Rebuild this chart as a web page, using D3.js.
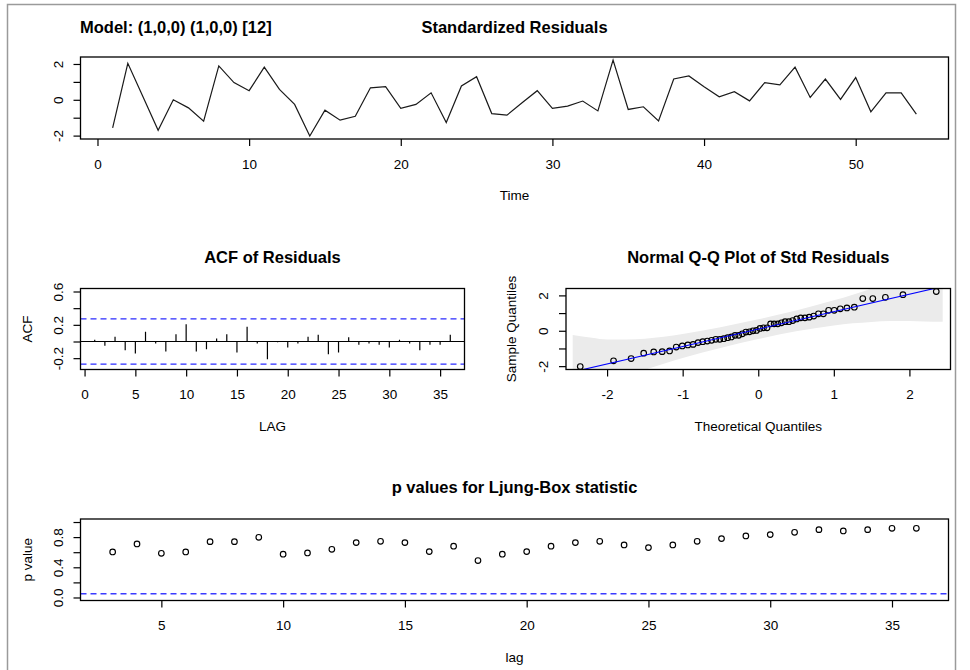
<!DOCTYPE html>
<html>
<head>
<meta charset="utf-8">
<script src="https://cdn.jsdelivr.net/npm/d3@7"></script>
<style>
  body { margin: 0; background: #fff; }
  text { font-family: "Liberation Sans", Arial, sans-serif; fill: #000; }
</style>
</head>
<body>
<svg id="chart" width="970" height="670"></svg>
<script>
// standardized residuals, time 1..54
const time = d3.range(1, 55);
const residuals = [-1.57, 2.04, 0.17, -1.70, 0.00, -0.45, -1.20, 1.89, 0.96, 0.51,
  1.82, 0.58, -0.26, -2.02, -0.58, -1.14, -0.92, 0.67, 0.73, -0.48,
  -0.26, 0.39, -1.27, 0.77, 1.29, -0.77, -0.86, -0.17, 0.51, -0.48,
  -0.35, -0.07, -0.62, 2.22, -0.54, -0.39, -1.18, 1.16, 1.33, 0.73,
  0.17, 0.45, -0.06, 0.96, 0.83, 1.82, 0.13, 1.16, 0.02, 1.24,
  -0.67, 0.39, 0.39, -0.80];

// acf of residuals
const acfLags = d3.range(1, 37);
const acfValues = [0.02, -0.052, 0.056, -0.104, -0.144, 0.116, -0.024, -0.12, 0.088, 0.208,
  -0.12, -0.092, 0.036, 0.088, -0.132, 0.176, -0.024, -0.212, -0.01, -0.072,
  -0.024, 0.056, 0.08, -0.152, -0.132, 0.052, -0.04, -0.024, -0.04, -0.072,
  0.02, -0.024, -0.104, -0.04, -0.04, 0.08];
const acfBound = 0.272;

// ljung-box p values
const lbLags = d3.range(3, 37);
const lbPvalues = [0.604, 0.709, 0.586, 0.604, 0.740, 0.740, 0.798, 0.573, 0.590, 0.639,
  0.727, 0.745, 0.727, 0.608, 0.679, 0.489, 0.573, 0.608, 0.679, 0.727,
  0.745, 0.696, 0.661, 0.696, 0.745, 0.780, 0.815, 0.833, 0.864, 0.899,
  0.881, 0.899, 0.917, 0.917];

// grey confidence band of the q-q plot
const bandZ = [-2.455, -2.2, -2.0, -1.75, -1.5, -1.25, -1.0, -0.5, 0, 0.5, 1.0, 1.25, 1.5, 1.75, 2.0, 2.2, 2.44];
const bandUpper = [-0.24, -0.4, -0.5, -0.5, -0.45, -0.34, -0.18, 0.2, 0.65, 1.15, 1.72, 2.04, 2.39, 2.77, 3.23, 3.67, 4.3];
const bandLower = [-4.16, -3.49, -3.05, -2.59, -2.2, -1.86, -1.54, -0.97, -0.47, -0.03, 0.3, 0.42, 0.5, 0.55, 0.55, 0.53, 0.51];

const modelLabel = "Model: (1,0,0) (1,0,0) [12]";

const svg = d3.select("#chart");

// frame round the screenshot
svg.append("rect")
  .attr("x", 7.5).attr("y", 4.5)
  .attr("width", 948).attr("height", 670)
  .attr("fill", "none").attr("stroke", "#9a9a9a").attr("stroke-width", 1.5);

// R pads each axis range by 4%
const pad = ([a, b]) => {
  const d = (b - a) * 0.04;
  return [a - d, b + d];
};

// inverse normal cdf (Acklam)
function qnorm(p) {
  const a = [-39.69683028665376, 220.9460984245205, -275.9285104469687, 138.3577518672690, -30.66479806614716, 2.506628277459239];
  const b = [-54.47609879822406, 161.5858368580409, -155.6989798598866, 66.80131188771972, -13.28068155288572];
  const c = [-0.007784894002430293, -0.3223964580411365, -2.400758277161838, -2.549732539343734, 4.374664141464968, 2.938163982698783];
  const d = [0.007784695709041462, 0.3224671290700398, 2.445134137142996, 3.754408661907416];
  const pl = 0.02425;
  if (p < pl) {
    const q = Math.sqrt(-2 * Math.log(p));
    return (((((c[0] * q + c[1]) * q + c[2]) * q + c[3]) * q + c[4]) * q + c[5]) /
      ((((d[0] * q + d[1]) * q + d[2]) * q + d[3]) * q + 1);
  }
  if (p > 1 - pl) return -qnorm(1 - p);
  const q = p - 0.5, r = q * q;
  return (((((a[0] * r + a[1]) * r + a[2]) * r + a[3]) * r + a[4]) * r + a[5]) * q /
    (((((b[0] * r + b[1]) * r + b[2]) * r + b[3]) * r + b[4]) * r + 1);
}

const fs = 13.5;
const intFmt = v => String(v);
const oneDec = v => v.toFixed(1);

function panel(o) {
  const x = d3.scaleLinear().domain(o.xDomain).range([o.left, o.right]);
  const y = d3.scaleLinear().domain(o.yDomain).range([o.bottom, o.top]);
  const g = svg.append("g");
  const clipId = "clip" + Math.round(o.left) + Math.round(o.top);
  svg.append("clipPath").attr("id", clipId)
    .append("rect")
    .attr("x", o.left).attr("y", o.top)
    .attr("width", o.right - o.left).attr("height", o.bottom - o.top);
  const plot = g.append("g").attr("clip-path", `url(#${clipId})`);

  // x axis
  const xa = g.append("g")
    .attr("transform", `translate(0,${o.bottom})`)
    .call(d3.axisBottom(x).tickValues(o.xTicks).tickSize(7).tickSizeOuter(0)
      .tickPadding(13).tickFormat(intFmt));
  xa.select(".domain").remove();
  xa.selectAll("line").attr("stroke", "#000").attr("stroke-width", 1.2);
  xa.selectAll("text").attr("font-size", fs).attr("fill", "#000");

  // y axis, labels rotated like R
  const ya = g.append("g")
    .attr("transform", `translate(${o.left},0)`)
    .call(d3.axisLeft(y).tickValues(o.yTicks).tickSize(7).tickSizeOuter(0)
      .tickFormat(v => o.yLabels.includes(v) ? o.yFormat(v) : ""));
  ya.select(".domain").remove();
  ya.selectAll("line").attr("stroke", "#000").attr("stroke-width", 1.2);
  ya.selectAll("text")
    .attr("x", null).attr("dy", null)
    .attr("text-anchor", "middle")
    .attr("font-size", fs).attr("fill", "#000")
    .attr("transform", "translate(-18,0) rotate(-90)");

  // titles
  g.append("text")
    .attr("x", (o.left + o.right) / 2).attr("y", o.top - o.titleOff)
    .attr("text-anchor", "middle")
    .attr("font-size", 16.5).attr("font-weight", "bold")
    .text(o.title);
  g.append("text")
    .attr("x", (o.left + o.right) / 2).attr("y", o.bottom + 61)
    .attr("text-anchor", "middle")
    .attr("font-size", fs)
    .text(o.xLabel);
  if (o.yLabel) {
    g.append("text")
      .attr("transform", `translate(${o.left - o.yLabelOff},${(o.top + o.bottom) / 2}) rotate(-90)`)
      .attr("text-anchor", "middle")
      .attr("font-size", fs)
      .text(o.yLabel);
  }

  return { x, y, g, plot, o };
}

function drawBox(p) {
  p.g.append("rect")
    .attr("x", p.o.left).attr("y", p.o.top)
    .attr("width", p.o.right - p.o.left).attr("height", p.o.bottom - p.o.top)
    .attr("fill", "none").attr("stroke", "#000").attr("stroke-width", 1.3);
}

// --- standardized residuals
const p1 = panel({
  left: 80.5, right: 948.5, top: 57, bottom: 139,
  xDomain: pad(d3.extent(time)), yDomain: pad(d3.extent(residuals)),
  xTicks: [0, 10, 20, 30, 40, 50], yTicks: [-2, -1, 0, 1, 2], yLabels: [-2, 0, 2],
  yFormat: intFmt, titleOff: 24,
  title: "Standardized Residuals", xLabel: "Time"
});
p1.plot.append("path")
  .datum(time.map((t, i) => [t, residuals[i]]))
  .attr("fill", "none").attr("stroke", "#1a1a1a").attr("stroke-width", 1.2)
  .attr("d", d3.line().x(d => p1.x(d[0])).y(d => p1.y(d[1])));
drawBox(p1);

svg.append("text")
  .attr("x", 80).attr("y", 33)
  .attr("font-size", 16.5).attr("font-weight", "bold")
  .text(modelLabel);

// --- acf of residuals
const p2 = panel({
  left: 80.5, right: 464.5, top: 288.5, bottom: 369.5,
  xDomain: pad([1, 36]), yDomain: pad([-0.3, 0.6]),
  xTicks: [0, 5, 10, 15, 20, 25, 30, 35], yTicks: [-0.2, 0, 0.2, 0.4, 0.6], yLabels: [-0.2, 0.2, 0.6],
  yFormat: oneDec, titleOff: 26,
  title: "ACF of Residuals", xLabel: "LAG", yLabel: "ACF", yLabelOff: 49
});
p2.plot.selectAll(".spike")
  .data(acfLags.map((l, i) => [l, acfValues[i]]))
  .join("line")
  .attr("x1", d => p2.x(d[0])).attr("x2", d => p2.x(d[0]))
  .attr("y1", p2.y(0)).attr("y2", d => p2.y(d[1]))
  .attr("stroke", "#000").attr("stroke-width", 1.2);
p2.plot.append("line")
  .attr("x1", p2.o.left).attr("x2", p2.o.right)
  .attr("y1", p2.y(0)).attr("y2", p2.y(0))
  .attr("stroke", "#000").attr("stroke-width", 1.2);
[acfBound, -acfBound].forEach(v => {
  p2.plot.append("line")
    .attr("x1", p2.o.left).attr("x2", p2.o.right)
    .attr("y1", p2.y(v)).attr("y2", p2.y(v))
    .attr("stroke", "#2a2aff").attr("stroke-width", 1.4).attr("stroke-dasharray", "6,4");
});
drawBox(p2);

// --- normal q-q plot
const sorted = residuals.slice().sort(d3.ascending);
const n = sorted.length;
const theo = sorted.map((v, i) => qnorm((i + 1 - 0.5) / n));
const q1 = d3.quantile(sorted, 0.25), q3 = d3.quantile(sorted, 0.75);
const slope = (q3 - q1) / (qnorm(0.75) - qnorm(0.25));
const icpt = q1 - slope * qnorm(0.25);

const p3 = panel({
  left: 566, right: 950.5, top: 288.5, bottom: 369.5,
  xDomain: pad(d3.extent(theo)), yDomain: pad(d3.extent(sorted)),
  xTicks: [-2, -1, 0, 1, 2], yTicks: [-2, -1, 0, 1, 2], yLabels: [-2, 0, 2],
  yFormat: intFmt, titleOff: 26,
  title: "Normal Q-Q Plot of Std Residuals", xLabel: "Theoretical Quantiles",
  yLabel: "Sample Quantiles", yLabelOff: 50
});
p3.plot.append("path")
  .datum(bandZ.map((z, i) => [z, bandLower[i], bandUpper[i]]))
  .attr("fill", "#ebebeb")
  .attr("d", d3.area().curve(d3.curveMonotoneX)
    .x(d => p3.x(d[0])).y0(d => p3.y(d[1])).y1(d => p3.y(d[2])));
p3.plot.selectAll(".pt")
  .data(theo.map((z, i) => [z, sorted[i]]))
  .join("circle")
  .attr("cx", d => p3.x(d[0])).attr("cy", d => p3.y(d[1])).attr("r", 2.8)
  .attr("fill", "none").attr("stroke", "#000").attr("stroke-width", 1.15);
const xd = p3.x.domain();
p3.plot.append("line")
  .attr("x1", p3.x(xd[0])).attr("y1", p3.y(icpt + slope * xd[0]))
  .attr("x2", p3.x(xd[1])).attr("y2", p3.y(icpt + slope * xd[1]))
  .attr("stroke", "#0000ff").attr("stroke-width", 1.1);
drawBox(p3);

// --- ljung-box p values
const p4 = panel({
  left: 80.5, right: 948.5, top: 519, bottom: 600.5,
  xDomain: pad(d3.extent(lbLags)), yDomain: pad([0, 1]),
  xTicks: [5, 10, 15, 20, 25, 30, 35], yTicks: [0, 0.2, 0.4, 0.6, 0.8, 1], yLabels: [0, 0.4, 0.8],
  yFormat: oneDec, titleOff: 26,
  title: "p values for Ljung-Box statistic", xLabel: "lag", yLabel: "p value", yLabelOff: 49
});
p4.plot.selectAll(".pv")
  .data(lbLags.map((l, i) => [l, lbPvalues[i]]))
  .join("circle")
  .attr("cx", d => p4.x(d[0])).attr("cy", d => p4.y(d[1])).attr("r", 2.8)
  .attr("fill", "none").attr("stroke", "#000").attr("stroke-width", 1.15);
p4.plot.append("line")
  .attr("x1", p4.o.left).attr("x2", p4.o.right)
  .attr("y1", p4.y(0.05)).attr("y2", p4.y(0.05))
  .attr("stroke", "#3b3bff").attr("stroke-width", 1.4).attr("stroke-dasharray", "6,4");
drawBox(p4);
</script>
</body>
</html>
